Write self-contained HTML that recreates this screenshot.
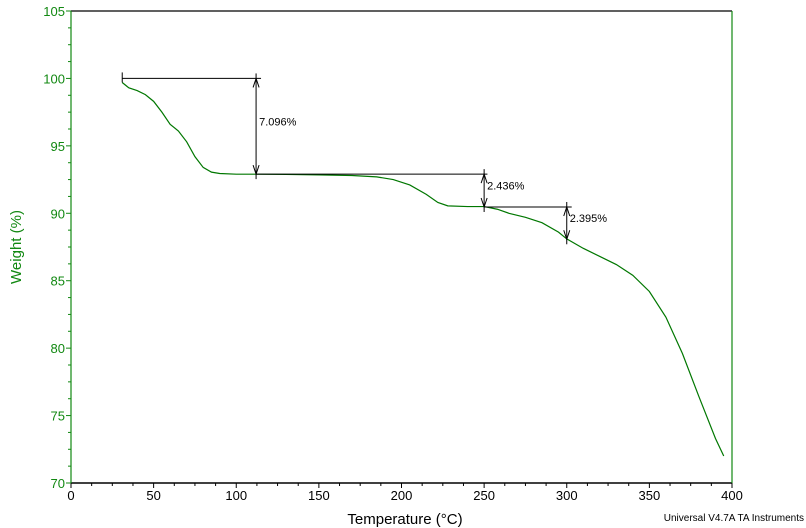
<!DOCTYPE html>
<html><head><meta charset="utf-8"><style>
body{margin:0;background:#fff;}
svg{display:block;font-family:"Liberation Sans",sans-serif;}
</style></head><body>
<svg id="chart" width="806" height="528" viewBox="0 0 806 528">
<g id="axes"></g><g id="marks"></g><g id="ann"></g>
<text x="405" y="524" font-size="15" text-anchor="middle" fill="#000">Temperature (°C)</text>
<text transform="translate(21,247) rotate(-90)" font-size="15" text-anchor="middle" fill="#118811">Weight (%)</text>
<text x="804" y="521" font-size="10" text-anchor="end" fill="#000">Universal V4.7A TA Instruments</text>
</svg>
<script>
const temps=[31,35,40,45,50,55,60,65,70,75,80,85,90,100,112,130,150,170,185,195,205,215,222,228,240,250,258,265,275,285,295,300,310,320,330,340,350,360,370,380,390,395];
const weights=[99.7,99.3,99.1,98.8,98.3,97.5,96.6,96.1,95.3,94.2,93.4,93.05,92.95,92.9,92.9,92.88,92.85,92.8,92.7,92.5,92.1,91.4,90.8,90.55,90.5,90.5,90.3,90.0,89.7,89.3,88.6,88.1,87.4,86.8,86.2,85.4,84.2,82.3,79.6,76.4,73.3,72.0];
const xTicks=[0,50,100,150,200,250,300,350,400];
const yTicks=[70,75,80,85,90,95,100,105];
const steps=[{t:112,from:100,to:92.904,label:"7.096%",x0:31,x1:115},{t:250,from:92.904,to:90.468,label:"2.436%",x0:112,x1:252},{t:300,from:90.468,to:88.073,label:"2.395%",x0:250,x1:303}];
const L=71,R=732,T=11,B=483;
const X=v=>L+(v-0)/400*(R-L), Y=v=>B-(v-70)/35*(B-T);
const NS="http://www.w3.org/2000/svg";
function mk(p,tag,a){const e=document.createElementNS(NS,tag);for(const k in a)e.setAttribute(k,a[k]);p.appendChild(e);return e;}
const ax=document.getElementById('axes'),mg=document.getElementById('marks'),an=document.getElementById('ann');
let e;
e=mk(ax,'line',{x1:L,y1:T,x2:R,y2:T,stroke:'#000','stroke-width':1.2});

e=mk(ax,'line',{x1:L,y1:B,x2:R,y2:B,stroke:'#000','stroke-width':1.5});

e=mk(ax,'line',{x1:L,y1:T,x2:L,y2:B,stroke:'#118811','stroke-width':1.2});

e=mk(ax,'line',{x1:R,y1:T,x2:R,y2:B,stroke:'#118811','stroke-width':1.2});

for(let v=0;v<=400;v+=12.5){const maj=v%50===0;mk(ax,'line',{x1:X(v),y1:B,x2:X(v),y2:B+(maj?5:3),stroke:'#000'});}
xTicks.forEach(v=>{e=mk(ax,'text',{x:X(v),y:B+17,'font-size':13,'text-anchor':'middle',fill:'#000'});e.textContent=v;
});
for(let v=70;v<=105;v+=1.25){const maj=v%5===0;mk(ax,'line',{x1:L,y1:Y(v),x2:L-(maj?5:3),y2:Y(v),stroke:'#118811'});}
yTicks.forEach(v=>{e=mk(ax,'text',{x:L-6,y:Y(v)+5,'font-size':13,'text-anchor':'end',fill:'#118811'});e.textContent=v;
});
e=mk(mg,'polyline',{points:temps.map((t,i)=>X(t)+','+Y(weights[i])).join(' '),fill:'none',stroke:'#007700','stroke-width':1.2});

e=mk(an,'line',{x1:X(31),y1:Y(100)-6,x2:X(31),y2:Y(100)+4,stroke:'#000'});
steps.forEach((s,i)=>{
 const g=mk(an,'g',{});
 
 mk(g,'line',{x1:X(s.x0),y1:Y(s.from),x2:X(s.x1),y2:Y(s.from),stroke:'#000'});
 const x=X(s.t),y1=Y(s.from),y2=Y(s.to);
 mk(g,'line',{x1:x,y1:y1-5,x2:x,y2:y2+5,stroke:'#000'});
 mk(g,'polyline',{points:`${x-3},${y1+9} ${x},${y1} ${x+3},${y1+9}`,fill:'none',stroke:'#000'});
 mk(g,'polyline',{points:`${x-3},${y2-9} ${x},${y2} ${x+3},${y2-9}`,fill:'none',stroke:'#000'});
 const t=mk(g,'text',{x:x+3,y:(y1+y2)/2-1,'font-size':11,fill:'#000'});t.textContent=s.label;
});
</script>
</body></html>
